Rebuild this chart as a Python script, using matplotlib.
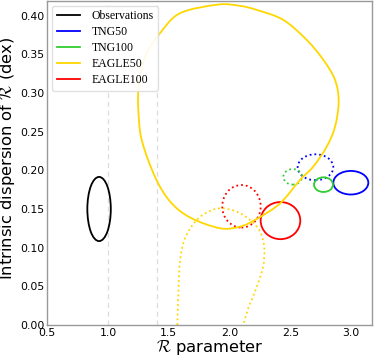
import numpy as np
import matplotlib
matplotlib.use("Agg")
import matplotlib.pyplot as plt
from matplotlib.patches import Ellipse, PathPatch
from matplotlib.path import Path

plt.rcParams['mathtext.fontset'] = 'cm'

# ---- data ----
labels = ["Observations", "TNG50", "TNG100", "EAGLE50", "EAGLE100"]
colors = ["black", "blue", "limegreen", "gold", "red"]

# elliptical contours: center x, center y, full width, full height
obs_ell = (0.926, 0.150, 0.193, 0.083)
tng50_solid = (2.998, 0.184, 0.288, 0.0305)
tng50_dot = (2.707, 0.204, 0.293, 0.0335)
tng100_solid = (2.773, 0.1815, 0.156, 0.019)
tng100_dot = (2.520, 0.1916, 0.154, 0.020)
eagle100_solid = (2.419, 0.135, 0.326, 0.048)
eagle100_dot = (2.098, 0.1535, 0.316, 0.055)

# EAGLE50 solid contour vertices (closed)
eagle50_solid_x = [1.907, 2.086, 2.223, 2.442, 2.635, 2.772, 2.868, 2.898, 2.868,
                   2.800, 2.689, 2.580, 2.415, 2.223, 2.086, 1.921, 1.674, 1.510,
                   1.386, 1.277, 1.249, 1.249, 1.263, 1.318, 1.428, 1.592]
eagle50_solid_y = [0.4144, 0.4127, 0.4075, 0.3946, 0.3687, 0.3428, 0.3169, 0.2889,
                   0.2565, 0.2307, 0.2048, 0.1876, 0.1572, 0.1371, 0.1272, 0.1251,
                   0.1391, 0.1598, 0.1918, 0.2393, 0.2781, 0.3040, 0.3212, 0.3515,
                   0.3774, 0.4032]
# EAGLE50 dotted contour vertices (open)
eagle50_dot_x = [1.570, 1.578, 1.592, 1.633, 1.730, 1.839, 1.935, 2.059, 2.168,
                 2.251, 2.286, 2.273, 2.209, 2.154, 2.113]
eagle50_dot_y = [0.000, 0.0388, 0.0819, 0.1122, 0.1358, 0.1475, 0.1510, 0.1466,
                 0.1358, 0.1207, 0.0992, 0.0734, 0.0431, 0.0216, 0.000]

vlines_x = [1.0, 1.4]
xticks = [0.5, 1.0, 1.5, 2.0, 2.5, 3.0]
yticks = [0.00, 0.05, 0.10, 0.15, 0.20, 0.25, 0.30, 0.35, 0.40]


def smooth_path(xs, ys, closed):
    P = np.column_stack([xs, ys])
    n = len(P)
    verts = [P[0]]
    codes = [Path.MOVETO]
    nseg = n if closed else n - 1
    for i in range(nseg):
        if closed:
            p0, p1, p2, p3 = P[(i - 1) % n], P[i], P[(i + 1) % n], P[(i + 2) % n]
        else:
            p0 = P[max(i - 1, 0)]
            p1 = P[i]
            p2 = P[i + 1]
            p3 = P[min(i + 2, n - 1)]
        c1 = p1 + (p2 - p0) / 6.0
        c2 = p2 - (p3 - p1) / 6.0
        verts += [c1, c2, p2]
        codes += [Path.CURVE4] * 3
    return Path(np.array(verts), codes)


fig = plt.figure(figsize=(3.74, 3.58), dpi=100)
ax = fig.add_axes([0.1265, 0.0922, 0.8674, 0.9050])

for xv in vlines_x:
    ax.axvline(xv, color='#dddddd', lw=0.9, ls=(0, (4, 3)), zorder=0)

lw = 1.3


def ell(params, color, ls):
    cx, cy, w, h = params
    ax.add_patch(Ellipse((cx, cy), w, h, fill=False, edgecolor=color, lw=lw, ls=ls))


ell(obs_ell, 'black', '-')
ell(tng50_solid, 'blue', '-')
ell(tng50_dot, 'blue', ':')
ell(tng100_solid, 'limegreen', '-')
ell(tng100_dot, 'limegreen', ':')
ell(eagle100_solid, 'red', '-')
ell(eagle100_dot, 'red', ':')
ax.add_patch(PathPatch(smooth_path(eagle50_solid_x, eagle50_solid_y, True),
                       fill=False, edgecolor='gold', lw=lw))
ax.add_patch(PathPatch(smooth_path(eagle50_dot_x, eagle50_dot_y, False),
                       fill=False, edgecolor='gold', lw=lw, ls=':'))

for lab, col in zip(labels, colors):
    ax.plot([], [], color=col, lw=lw, label=lab)

ax.set_xlim(0.5, 3.17)
ax.set_ylim(0.0, 0.419)
ax.set_xticks(xticks)
ax.set_yticks(yticks)
ax.set_xticklabels([f"{v:.1f}" for v in xticks])
ax.set_yticklabels([f"{v:.2f}" for v in yticks])
ax.tick_params(length=0, labelsize=7.8, pad=2)
for s in ax.spines.values():
    s.set_color('#999999')
    s.set_linewidth(1.0)

ax.set_xlabel(r"$\mathcal{R}$ parameter", fontsize=11.8, labelpad=0)
ax.set_ylabel(r"Intrinsic dispersion of $\mathcal{R}$ (dex)", fontsize=11.8)
ax.yaxis.set_label_coords(-0.094, 0.515)

ax.legend(loc='upper left', prop={'family': 'Liberation Serif', 'size': 8.5},
          frameon=True, framealpha=0.9, edgecolor='#dddddd',
          borderaxespad=0.4, labelspacing=0.33, handlelength=2.0,
          handletextpad=0.95)

fig.savefig("out.png", dpi=100)
